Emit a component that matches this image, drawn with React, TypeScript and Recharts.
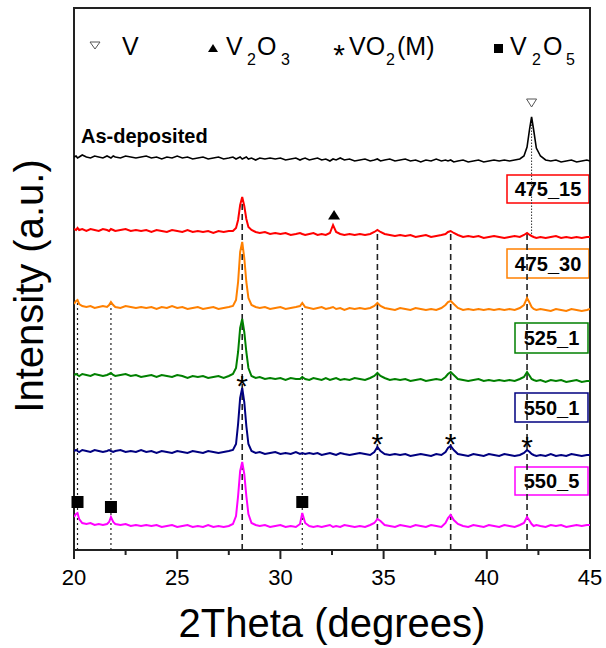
import React from 'react'
import {
  LineChart,
  Line,
  XAxis,
  YAxis,
  ReferenceLine,
  ReferenceDot,
  ReferenceArea,
  Customized,
} from 'recharts'

const FONT = "'Liberation Sans', Arial, sans-serif"

// 2theta positions (deg)
const THETA = [
  20.0, 20.1, 20.17, 20.25, 20.4, 20.6, 20.8, 21.0, 21.2, 21.4,
  21.6, 21.7, 21.79, 21.9, 22.0, 22.25, 22.5, 22.75, 23.0, 23.25,
  23.5, 23.75, 24.0, 24.25, 24.5, 24.75, 25.0, 25.25, 25.5, 25.75,
  26.0, 26.25, 26.5, 26.75, 27.0, 27.25, 27.5, 27.7, 27.85, 27.95,
  28.05, 28.15, 28.25, 28.35, 28.45, 28.6, 28.8, 29.0, 29.25, 29.5,
  29.75, 30.0, 30.25, 30.5, 30.75, 30.95, 31.06, 31.2, 31.4, 31.6,
  31.8, 32.0, 32.2, 32.4, 32.55, 32.7, 32.9, 33.1, 33.35, 33.6,
  33.85, 34.1, 34.35, 34.55, 34.7, 34.85, 35.05, 35.3, 35.55, 35.8,
  36.05, 36.3, 36.55, 36.8, 37.05, 37.3, 37.55, 37.8, 38.0, 38.12,
  38.25, 38.4, 38.6, 38.85, 39.1, 39.35, 39.6, 39.85, 40.1, 40.35,
  40.6, 40.85, 41.1, 41.35, 41.6, 41.8, 41.95, 42.08, 42.17, 42.27,
  42.4, 42.6, 42.85, 43.1, 43.35, 43.6, 43.85, 44.1, 44.35, 44.6,
  44.85, 45.0,
]

// stacked intensities (a.u.)
const AS_DEP = [
  393, 394, 392, 393, 395, 393, 392, 394, 393, 392,
  394, 393, 392, 394, 393, 392, 394, 393, 392, 393,
  394, 392, 393, 391, 393, 392, 394, 392, 393, 391,
  392, 393, 391, 392, 393, 391, 392, 393, 391, 392,
  393, 391, 392, 393, 391, 392, 390, 392, 391, 392,
  391, 392, 390, 391, 392, 390, 391, 392, 390, 391,
  392, 390, 391, 389, 391, 390, 392, 390, 391, 389,
  390, 391, 389, 390, 391, 389, 390, 391, 389, 390,
  391, 389, 390, 388, 390, 389, 391, 389, 390, 389,
  390, 388, 389, 390, 388, 389, 390, 388, 389, 390,
  389, 390, 389, 390, 391, 394, 403, 422, 433, 420,
  402, 394, 390, 389, 390, 388, 389, 390, 388, 389,
  390, 389,
]
const S475_15 = [
  321, 320, 322, 320, 321, 319, 321, 320, 319, 321,
  320, 319, 321, 320, 319, 320, 321, 319, 320, 319,
  320, 318, 320, 319, 318, 320, 319, 318, 320, 318,
  319, 318, 319, 317, 319, 318, 319, 319, 322, 330,
  345, 353, 344, 331, 323, 320, 318, 317, 318, 316,
  317, 316, 317, 315, 316, 317, 316, 315, 316, 317,
  315, 316, 315, 317, 325, 318, 316, 315, 316, 315,
  316, 315, 316, 318, 320, 318, 316, 315, 314, 315,
  314, 315, 313, 314, 315, 313, 314, 315, 316, 318,
  319, 317, 315, 313, 314, 313, 314, 312, 313, 314,
  313, 312, 313, 314, 313, 315, 317, 315, 314, 313,
  312, 313, 312, 313, 314, 312, 313, 312, 313, 312,
  313, 313,
]
const S475_30 = [
  246, 249, 250, 246, 244, 243, 244, 242, 243, 244,
  243, 245, 248, 245, 243, 242, 244, 243, 242, 243,
  242, 243, 241, 243, 242, 244, 242, 243, 241, 242,
  243, 241, 242, 243, 241, 242, 243, 244, 250, 268,
  298, 308, 292, 268, 252, 245, 243, 242, 243, 241,
  242, 243, 241, 242, 243, 244, 247, 243, 242, 241,
  242, 243, 241, 242, 243, 241, 242, 240, 242, 241,
  242, 241, 242, 244, 247, 244, 242, 241, 240, 242,
  241, 240, 242, 241, 240, 241, 240, 242, 245, 248,
  249, 246, 242, 240, 241, 240, 241, 240, 241, 240,
  241, 240, 241, 240, 242, 245, 252, 247, 243, 241,
  240, 241, 240, 239, 241, 240, 239, 241, 240, 239,
  240, 241,
]
const S525_1 = [
  175, 176, 175, 174, 176, 175, 174, 176, 175, 174,
  175, 176, 177, 175, 174, 175, 176, 174, 175, 173,
  174, 175, 173, 175, 174, 173, 175, 174, 172, 174,
  173, 174, 172, 173, 174, 172, 174, 176, 182, 198,
  222, 231, 218, 198, 182, 174, 172, 173, 171, 172,
  171, 172, 170, 172, 171, 171, 173, 171, 170, 172,
  171, 170, 172, 170, 171, 172, 170, 171, 170, 172,
  171, 170, 172, 174, 177, 174, 172, 170, 171, 170,
  171, 169, 170, 171, 169, 170, 171, 170, 173, 176,
  178, 175, 171, 170, 169, 170, 171, 169, 170, 169,
  170, 169, 170, 169, 171, 173, 178, 174, 171, 170,
  169, 170, 168, 170, 169, 170, 168, 169, 170, 168,
  169, 169,
]
const S550_1 = [
  99, 100, 99, 98, 100, 99, 98, 100, 99, 98,
  99, 100, 99, 98, 99, 100, 98, 99, 98, 100,
  98, 99, 97, 99, 98, 97, 99, 98, 97, 99,
  98, 97, 99, 98, 97, 98, 99, 100, 106, 126,
  152, 162, 148, 124, 106, 99, 97, 98, 96, 97,
  98, 96, 97, 96, 98, 96, 97, 96, 97, 96,
  97, 95, 96, 97, 96, 95, 97, 96, 95, 96,
  97, 96, 95, 98, 103, 99, 96, 95, 96, 95,
  96, 94, 95, 96, 95, 94, 96, 95, 98, 102,
  104, 100, 96, 95, 94, 96, 95, 94, 96, 95,
  94, 96, 95, 94, 95, 97, 100, 98, 96, 95,
  94, 95, 94, 96, 94, 95, 94, 96, 95, 94,
  95, 95,
]
const S550_5 = [
  33, 36, 37, 31, 27, 26, 27, 25, 26, 25,
  26, 28, 33, 28, 26, 25, 26, 24, 25, 24,
  25, 24, 25, 23, 24, 25, 23, 24, 25, 23,
  24, 23, 25, 23, 24, 23, 24, 26, 34, 54,
  79, 88, 76, 54, 36, 27, 25, 24, 25, 23,
  24, 25, 23, 24, 23, 26, 37, 27, 24, 23,
  24, 23, 24, 25, 23, 24, 23, 25, 24, 23,
  24, 23, 25, 27, 31, 29, 25, 24, 23, 25,
  24, 23, 25, 24, 23, 25, 24, 23, 27, 32,
  35, 30, 26, 24, 23, 25, 24, 23, 25, 24,
  23, 25, 24, 23, 25, 27, 33, 29, 26, 24,
  25, 24, 23, 25, 24, 25, 23, 24, 25, 24,
  25, 25,
]

// phase peak positions and marker heights
const VO2_PEAKS = [28.15, 34.7, 38.25, 41.95]
const VO2_LINE_TOP = [350, 320, 320, 318]
const VO2_STAR_Y = [171, 113, 113, 110]
const V2O5_PEAKS = [20.17, 21.79, 31.06]
const V2O5_LINE_TOP = [248, 248, 248]
const V2O5_MARK_Y = [48, 43, 48]
const V_PEAK = 42.17
const V2O3_PEAK = 32.6

const X_TICKS = [20, 22.5, 25, 27.5, 30, 32.5, 35, 37.5, 40, 42.5, 45]

const SERIES = [
  { key: 'asdep', color: '#000000', width: 1.6 },
  { key: 's475_15', color: '#ff0000', width: 2 },
  { key: 's475_30', color: '#ff8000', width: 2 },
  { key: 's525_1', color: '#008000', width: 2 },
  { key: 's550_1', color: '#000080', width: 2 },
  { key: 's550_5', color: '#ff00ff', width: 2 },
]

const BOXES = [
  { label: '475_15', color: '#ff0000', x: 507, y: 175, w: 82, h: 28 },
  { label: '475_30', color: '#ff8000', x: 507, y: 249, w: 82, h: 29 },
  { label: '525_1', color: '#008000', x: 515, y: 323, w: 73, h: 30 },
  { label: '550_1', color: '#000080', x: 515, y: 393, w: 73, h: 29 },
  { label: '550_5', color: '#ff00ff', x: 515, y: 467, w: 73, h: 28 },
]

const rows = THETA.map((t, i) => ({
  t,
  asdep: AS_DEP[i],
  s475_15: S475_15[i],
  s475_30: S475_30[i],
  s525_1: S525_1[i],
  s550_1: S550_1[i],
  s550_5: S550_5[i],
}))

const XTick = ({ x, y, payload }: any) => {
  const major = payload.value % 5 === 0
  return (
    <g>
      <line x1={x} x2={x} y1={y} y2={y + (major ? 9 : 5)} stroke="#222" strokeWidth={2} />
      {major && (
        <text x={x} y={y + 35} textAnchor="middle" fontSize={22} fontFamily={FONT} fill="#000">
          {payload.value}
        </text>
      )}
    </g>
  )
}

const TriDown = ({ cx, cy }: any) => (
  <polygon
    points={`${cx - 5},${cy - 4} ${cx + 5},${cy - 4} ${cx},${cy + 4}`}
    fill="#fff"
    stroke="#555"
    strokeWidth={1}
  />
)
const TriUp = ({ cx, cy }: any) => (
  <polygon points={`${cx - 6},${cy + 4.5} ${cx + 6},${cy + 4.5} ${cx},${cy - 5}`} fill="#000" />
)
const Star = ({ cx, cy }: any) => (
  <text x={cx} y={cy + 17} textAnchor="middle" fontSize={30} fontFamily={FONT} fill="#000">
    *
  </text>
)
const Square = ({ cx, cy }: any) => <rect x={cx - 6} y={cy - 6} width={12} height={12} fill="#000" />

const Sub = ({ x, children }: any) => (
  <text x={x} y={65} fontSize={16} fontFamily={FONT} fill="#000">
    {children}
  </text>
)
const Big = ({ x, children }: any) => (
  <text x={x} y={55} fontSize={25} fontFamily={FONT} fill="#000">
    {children}
  </text>
)

const Overlay = () => (
  <g>
    {/* legend row */}
    <polygon points="90,42 100,42 95,49" fill="none" stroke="#555" strokeWidth={1} />
    <Big x={122}>V</Big>
    <polygon points="208,52 218,52 213,44" fill="#000" />
    <Big x={226}>V</Big>
    <Sub x={247}>2</Sub>
    <Big x={257}>O</Big>
    <Sub x={281}>3</Sub>
    <text x={339} y={65} textAnchor="middle" fontSize={30} fontFamily={FONT} fill="#000">*</text>
    <Big x={349}>VO</Big>
    <Sub x={386}>2</Sub>
    <Big x={397}>(M)</Big>
    <rect x={494} y={44} width={9} height={9} fill="#000" />
    <Big x={510}>V</Big>
    <Sub x={532}>2</Sub>
    <Big x={543}>O</Big>
    <Sub x={566}>5</Sub>

    <text x={81} y={143} fontSize={20} fontWeight="bold" fontFamily={FONT} fill="#000">
      As-deposited
    </text>
    {BOXES.map(b => (
      <g key={b.label}>
        <rect x={b.x} y={b.y} width={b.w} height={b.h} fill="#fff" stroke={b.color} strokeWidth={1.5} />
        <text
          x={b.x + b.w / 2}
          y={b.y + b.h / 2 + 7}
          textAnchor="middle"
          fontSize={20}
          fontWeight="bold"
          fontFamily={FONT}
          fill="#000"
        >
          {b.label}
        </text>
      </g>
    ))}

    {/* axis titles */}
    <text x={332} y={637} textAnchor="middle" fontSize={40} fontFamily={FONT} fill="#000">
      2Theta (degrees)
    </text>
    <text
      x={43}
      y={286}
      textAnchor="middle"
      fontSize={40}
      fontFamily={FONT}
      fill="#000"
      transform="rotate(-90, 43, 286)"
    >
      Intensity (a.u.)
    </text>
  </g>
)

export default function App() {
  return (
    <div style={{ position: 'absolute', left: 0, top: 0, background: '#fff' }}>
      <LineChart width={606} height={648} data={rows} margin={{ top: 8, right: 16, bottom: 0, left: 74 }}>
        <XAxis
          dataKey="t"
          type="number"
          domain={[20, 45]}
          ticks={X_TICKS}
          interval={0}
          tick={<XTick />}
          tickLine={false}
          tickSize={0}
          tickMargin={0}
          axisLine={false}
          height={98}
          allowDataOverflow
        />
        <YAxis hide type="number" domain={[0, 542]} allowDataOverflow />

        {VO2_PEAKS.map((p, i) => (
          <ReferenceLine
            key={'vo2' + p}
            segment={[{ x: p, y: 0 }, { x: p, y: VO2_LINE_TOP[i] }]}
            stroke="#222"
            strokeWidth={1.6}
            strokeDasharray="6 4"
          />
        ))}
        {V2O5_PEAKS.map((p, i) => (
          <ReferenceLine
            key={'v2o5' + p}
            segment={[{ x: p, y: 0 }, { x: p, y: V2O5_LINE_TOP[i] }]}
            stroke="#222"
            strokeWidth={1.2}
            strokeDasharray="2 3"
          />
        ))}
        <ReferenceLine
          segment={[{ x: V_PEAK, y: 316 }, { x: V_PEAK, y: 433 }]}
          stroke="#333"
          strokeWidth={1}
          strokeDasharray="1.5 1.5"
        />

        {SERIES.map(s => (
          <Line
            key={s.key}
            type="linear"
            dataKey={s.key}
            stroke={s.color}
            strokeWidth={s.width}
            dot={false}
            activeDot={false}
            isAnimationActive={false}
          />
        ))}

        <ReferenceArea x1={20} x2={45} y1={0} y2={542} fill="none" stroke="#222" strokeWidth={2} />

        <ReferenceDot x={V_PEAK} y={447} r={5} shape={<TriDown />} />
        <ReferenceDot x={V2O3_PEAK} y={335} r={5} shape={<TriUp />} />
        {VO2_PEAKS.map((p, i) => (
          <ReferenceDot key={'star' + p} x={p} y={VO2_STAR_Y[i]} r={5} shape={<Star />} />
        ))}
        {V2O5_PEAKS.map((p, i) => (
          <ReferenceDot key={'sq' + p} x={p} y={V2O5_MARK_Y[i]} r={5} shape={<Square />} />
        ))}

        <Customized component={Overlay} />
      </LineChart>
    </div>
  )
}
